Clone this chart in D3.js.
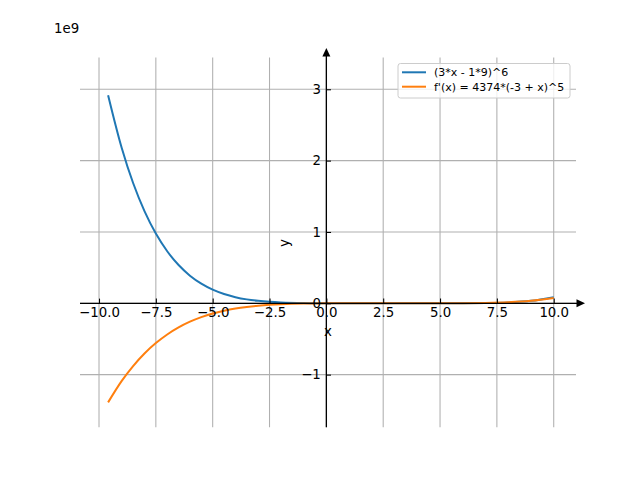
<!DOCTYPE html>
<html>
<head>
<meta charset="utf-8">
<script src="https://cdn.jsdelivr.net/npm/d3@7"></script>
<style>
  body { margin: 0; background: #fff; }
  text { font-family: "DejaVu Sans", sans-serif; }
</style>
</head>
<body>
<svg width="640" height="480"></svg>
<script>
// values, y in units of 1e9
var xs = [-9.6, -9, -8.5, -8, -7.5, -7, -6.5, -6, -5.5, -5, -4.5, -4, -3.5, -3, -2.5, -2, -1, 0, 1, 2, 3, 4, 5, 6, 7, 8, 9, 10];
var fVals = [2.917, 2.177, 1.686, 1.292, 0.977, 0.729, 0.536, 0.387, 0.275, 0.191, 0.130, 0.086, 0.055, 0.034, 0.020, 0.0114, 0.003, 0.0005, 0.00005, 0, 0, 0, 0.00005, 0.0005, 0.003, 0.0114, 0.034, 0.0858];
var dfVals = [-1.389, -1.088, -0.880, -0.704, -0.558, -0.437, -0.338, -0.258, -0.194, -0.143, -0.104, -0.0735, -0.051, -0.034, -0.022, -0.0137, -0.0045, -0.0011, -0.00014, 0, 0, 0, 0.00014, 0.0011, 0.0045, 0.0137, 0.034, 0.0735];
var xTicks = [-10, -7.5, -5, -2.5, 0, 2.5, 5, 7.5, 10];
var yTicks = [-1, 0, 1, 2, 3];
var seriesNames = ['(3*x - 1*9)^6', "f'(x) = 4374*(-3 + x)^5"];
var colors = ['#1f77b4', '#ff7f0e'];

var svg = d3.select('svg');

var plotLeft = 80, plotRight = 576, plotTop = 57.6, plotBottom = 427.2;

var x = d3.scaleLinear()
  .domain([-10.836, 10.98])
  .range([plotLeft, plotRight]);

var y = d3.scaleLinear()
  .domain([-1.737, 3.444])
  .range([plotBottom, plotTop]);

var fmtX = function(d) { return d3.format('.1f')(d).replace('-', '\u2212'); };
var fmtY = function(d) { return String(d).replace('-', '\u2212'); };

// grid
var grid = svg.append('g').attr('stroke', '#b0b0b0').attr('stroke-width', 1.07);
grid.selectAll('line.vx')
  .data(xTicks)
  .enter().append('line')
  .attr('x1', function(d) { return x(d); })
  .attr('x2', function(d) { return x(d); })
  .attr('y1', plotTop).attr('y2', plotBottom);
grid.selectAll('line.hy')
  .data(yTicks)
  .enter().append('line')
  .attr('x1', plotLeft).attr('x2', plotRight)
  .attr('y1', function(d) { return y(d); })
  .attr('y2', function(d) { return y(d); });

// curves
var line = d3.line()
  .x(function(d) { return x(d[0]); })
  .y(function(d) { return y(d[1]); })
  .curve(d3.curveCatmullRom.alpha(0.5));

[fVals, dfVals].forEach(function(vals, i) {
  svg.append('path')
    .datum(xs.map(function(v, j) { return [v, vals[j]]; }))
    .attr('fill', 'none')
    .attr('stroke', colors[i])
    .attr('stroke-width', 2)
    .attr('d', line);
});

// axes through zero
var xAxis = svg.append('g')
  .attr('transform', 'translate(0,' + y(0) + ')')
  .call(d3.axisBottom(x).tickValues(xTicks).tickFormat(fmtX).tickSize(-4.67).tickPadding(4.7));
var yAxis = svg.append('g')
  .attr('transform', 'translate(' + x(0) + ',0)')
  .call(d3.axisLeft(y).tickValues(yTicks).tickFormat(fmtY).tickSize(-4.67).tickPadding(5.5));

[xAxis, yAxis].forEach(function(a) {
  a.select('.domain').remove();
  a.selectAll('.tick line').attr('stroke', '#000').attr('stroke-width', 1.07);
  a.selectAll('.tick text')
    .attr('fill', '#000')
    .style('font-size', '13.33px')
    .style('font-family', '"DejaVu Sans", sans-serif');
});

svg.append('line')
  .attr('x1', plotLeft).attr('x2', 578)
  .attr('y1', y(0)).attr('y2', y(0))
  .attr('stroke', '#000').attr('stroke-width', 1.3);
svg.append('path')
  .attr('d', 'M585,' + y(0) + ' L576.5,' + (y(0) - 4) + ' L576.5,' + (y(0) + 4) + ' Z')
  .attr('fill', '#000');
svg.append('line')
  .attr('x1', x(0)).attr('x2', x(0))
  .attr('y1', plotBottom).attr('y2', 55)
  .attr('stroke', '#000').attr('stroke-width', 1.3);
svg.append('path')
  .attr('d', 'M' + x(0) + ',48 L' + (x(0) - 4) + ',56.5 L' + (x(0) + 4) + ',56.5 Z')
  .attr('fill', '#000');

// labels
svg.append('text')
  .attr('x', 328).attr('y', 336)
  .attr('text-anchor', 'middle')
  .style('font-size', '13.33px')
  .text('x');
svg.append('text')
  .attr('transform', 'translate(289,243) rotate(-90)')
  .attr('text-anchor', 'middle')
  .style('font-size', '13.33px')
  .text('y');
svg.append('text')
  .attr('x', 54).attr('y', 33.3)
  .style('font-size', '13.33px')
  .text('1e9');

// legend
var legend = svg.append('g');
legend.append('rect')
  .attr('x', 398).attr('y', 63.5)
  .attr('width', 172).attr('height', 34.5)
  .attr('rx', 2.5)
  .attr('fill', '#fff').attr('fill-opacity', 0.8)
  .attr('stroke', '#cccccc').attr('stroke-width', 1);
seriesNames.forEach(function(name, i) {
  var ly = 72.3 + i * 14.4;
  legend.append('line')
    .attr('x1', 402).attr('x2', 426)
    .attr('y1', ly).attr('y2', ly)
    .attr('stroke', colors[i]).attr('stroke-width', 2);
  legend.append('text')
    .attr('x', 434).attr('y', ly + 4)
    .style('font-size', '11px')
    .text(name);
});
</script>
</body>
</html>
